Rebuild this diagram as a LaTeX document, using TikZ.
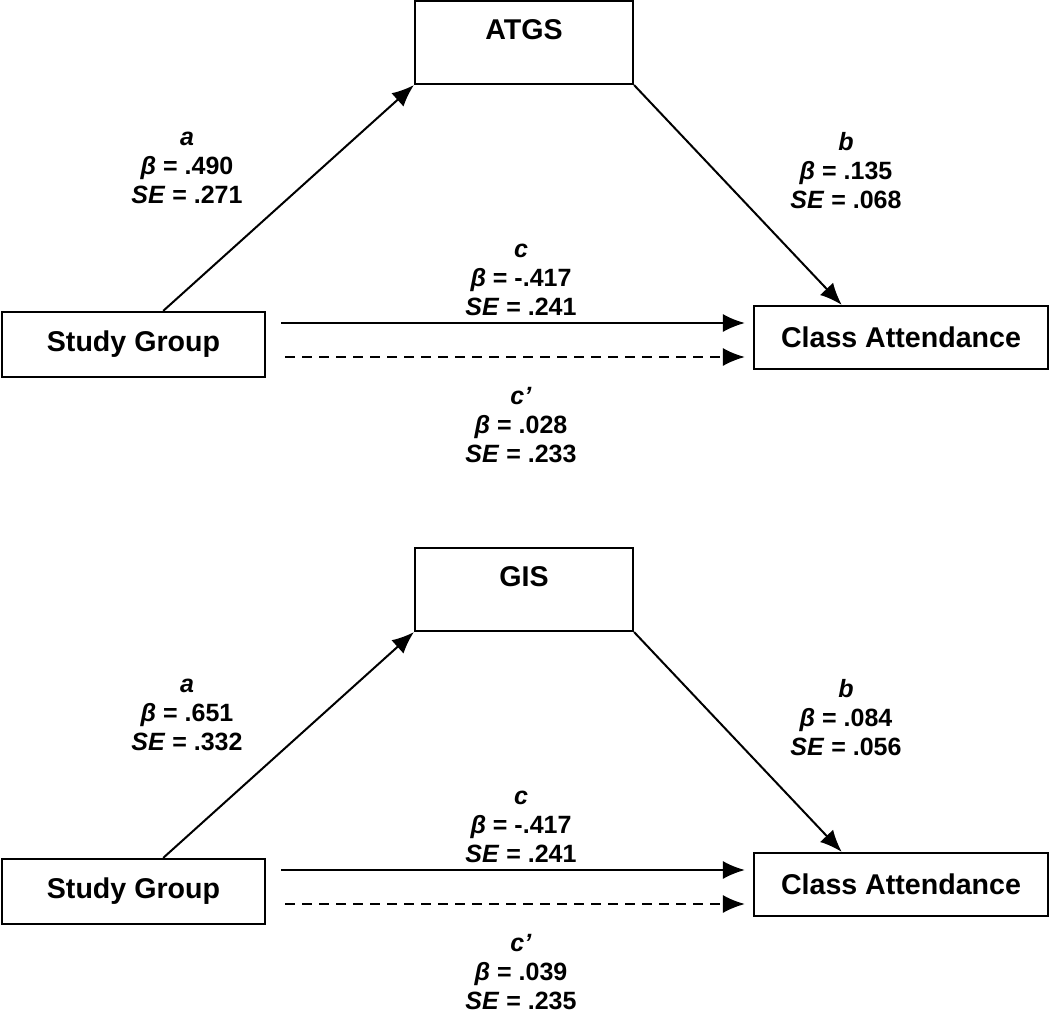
\documentclass[tikz,border=0pt]{standalone}
\usepackage{fontspec}
\setmainfont{Liberation Sans}
\usetikzlibrary{arrows.meta,calc}
\tikzset{
  box/.style={draw, line width=2.2pt, inner sep=0pt, font=\fontsize{28.6}{34}\selectfont\bfseries},
  boxlabel/.style={inner sep=0pt, font=\fontsize{28.6}{34}\selectfont\bfseries},
  coef/.style={align=center, inner sep=0pt, font=\fontsize{25}{29}\selectfont\bfseries},
  arr/.style={line width=2pt, -{Latex[length=22pt,width=18pt]}},
  darr/.style={arr, dash pattern=on 10pt off 7pt},
}
\newcommand{\mypanel}[9]{%
  \node[box, minimum width=218pt, minimum height=83pt] (med) at (524,42.5) {};
  \node[boxlabel] (medl) at (524,30) {#1};
  \node[box, minimum width=263pt, minimum height=65pt] (sg) at (133.5,344.5) {Study Group};
  \node[box, minimum width=294pt, minimum height=63pt] (ca) at (901,337.5) {Class Attendance};
  \draw[arr] ($(sg.north west)!0.612!(sg.north east)$) -- (med.south west);
  \draw[arr] (med.south east) -- ($(ca.north west)!0.30!(ca.north east)$);
  \draw[arr] ([xshift=15pt,yshift=21.5pt]sg.east) -- ([xshift=-8pt,yshift=14.5pt]ca.west);
  \draw[darr] ([xshift=19pt,yshift=-12.5pt]sg.east) -- ([xshift=-8pt,yshift=-19.5pt]ca.west);
  \node[coef] (la) at (187,168) {\textit{a}\\\textit{β} = #2\\\textit{SE} = #3};
  \node[coef] (lb) at (846,171) {\textit{b}\\\textit{β} = #4\\\textit{SE} = #5};
  \node[coef] (lc) at (521,280) {\textit{c}\\\textit{β} = #6\\\textit{SE} = #7};
  \node[coef] (lcp) at (521,425) {\textit{c’}\\\textit{β} = #8\\\textit{SE} = #9};
}
\begin{document}
\begin{tikzpicture}[x=1pt,y=-1pt]
\useasboundingbox (0,0) rectangle (1050,1013);
\begin{scope}[name prefix=p1-]
\mypanel{ATGS}{.490}{.271}{.135}{.068}{-.417}{.241}{.028}{.233}
\end{scope}
\begin{scope}[yshift=-547pt, name prefix=p2-]
\mypanel{GIS}{.651}{.332}{.084}{.056}{-.417}{.241}{.039}{.235}
\end{scope}
\end{tikzpicture}
\end{document}
